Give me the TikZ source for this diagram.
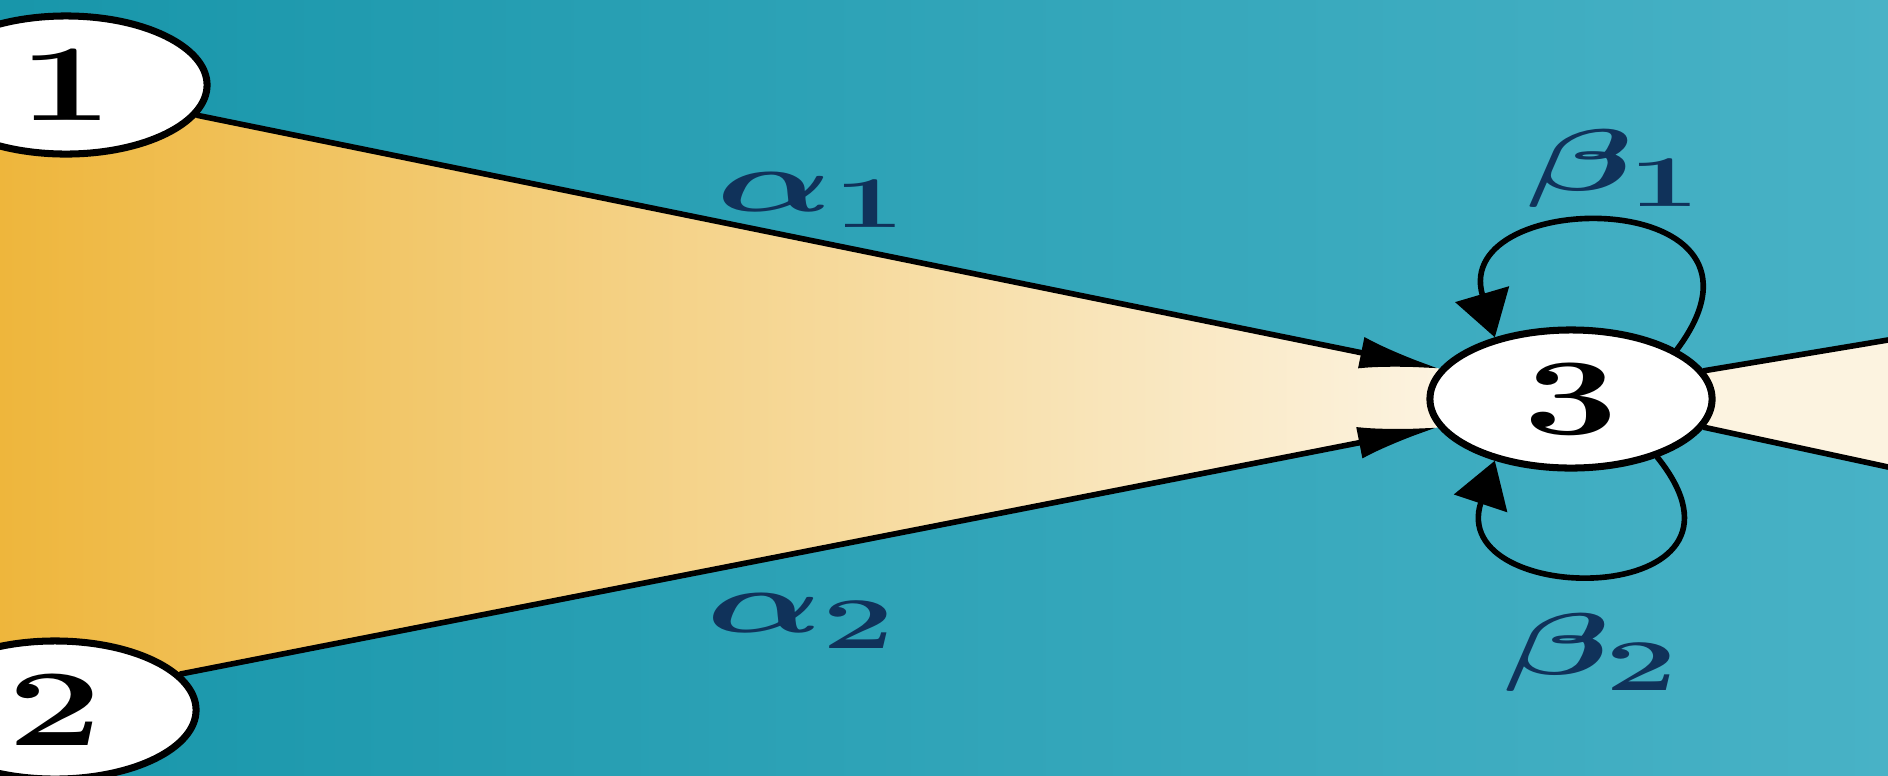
\documentclass[tikz,border=0pt]{standalone}
\usepackage{graphicx}
\usetikzlibrary{arrows.meta,shapes.geometric,backgrounds}
\definecolor{poolteal}{RGB}{24,150,170}
\definecolor{poolsky}{RGB}{72,178,198}
\definecolor{flowgold}{RGB}{238,182,60}
\definecolor{flowcream}{RGB}{252,243,224}
\definecolor{ratenavy}{RGB}{16,50,90}
\newcommand{\wide}[1]{\scalebox{1.55}[1]{#1}}
\newcommand{\widerate}[1]{\scalebox{1.75}[1]{#1}}

\begin{document}
\begin{tikzpicture}[x=.01cm,y=-.01cm,line cap=round,line join=round,
  state/.style={ellipse,draw,line width=2pt,fill=white,inner sep=0pt,
   minimum width=2.82cm,minimum height=1.38cm,font=\fontsize{31}{32}\selectfont\bfseries},
  rate/.style={text=ratenavy,inner sep=1pt,font=\fontsize{28}{30}\selectfont\boldmath},
  edge/.style={line width=1.6pt}]
 \useasboundingbox (0,0) rectangle (1888,775);
 \node[state] (n1) at (66,85) {\wide{1}};
 \node[state] (n2) at (55,710) {\wide{2}};
 \node[state] (n3) at (1571,399) {\wide{3}};
 \coordinate (r1) at (1888,340);
 \coordinate (r2) at (1888,467);
 \begin{pgfonlayer}{background}
  \shade[left color=poolteal,right color=poolsky] (0,0) rectangle (1888,775);
  \shade[left color=flowgold,right color=flowcream]
   (0,85) -- (n1.-13) -- (n3.167) -- (n3.192) -- (n2.16) -- (0,710) -- cycle;
  \fill[flowcream] (n3.12) -- (r1) -- (r2) -- (n3.-12) -- cycle;
 \end{pgfonlayer}
 \draw[edge,-{Latex[length=8mm,width=3.2mm]}] (n1.-13) -- (n3.167)
  node[pos=.495,above=2pt,rate] (a1) {\widerate{$\alpha_1$}};
 \draw[edge,-{Latex[length=8mm,width=3.2mm]}] (n2.16) -- (n3.192)
  node[pos=.494,below=10pt,rate] (a2) {\widerate{$\alpha_2$}};
 \draw[edge,-{Triangle[length=4.5mm,width=5.5mm]}] (n3.25)
  .. controls (1800,185) and (1450,185) .. (n3.141)
  node[pos=.5,above=3pt,rate] (b1) {\widerate{$\beta_1$}};
 \draw[edge,-{Triangle[length=4.5mm,width=5.5mm]}] (n3.-34)
  .. controls (1780,610) and (1445,610) .. (n3.-141)
  node[pos=.5,below=10pt,xshift=-3pt,rate] (b2) {\widerate{$\beta_2$}};
 \draw[edge] (n3.12) -- (r1) (n3.-12) -- (r2);
\end{tikzpicture}
\end{document}
